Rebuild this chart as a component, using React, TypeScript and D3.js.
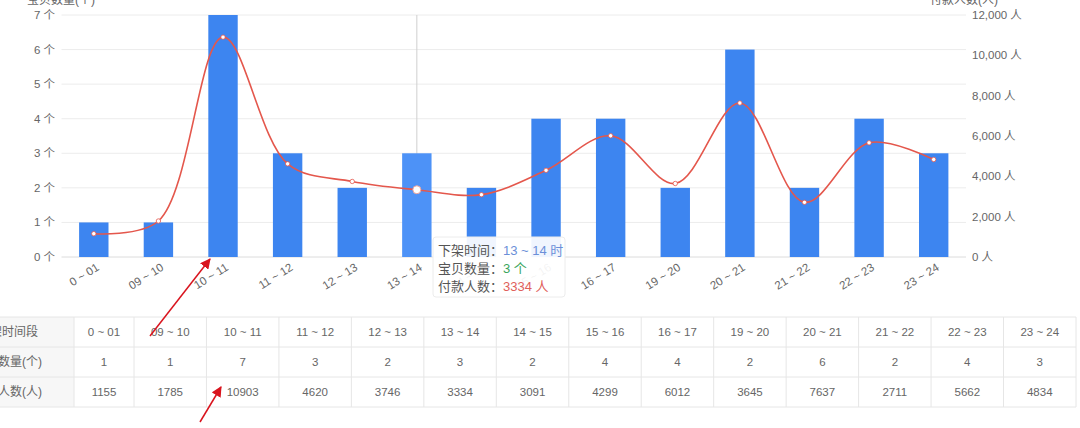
import React from "react";
import * as d3 from "d3";

const categories = ["0 ~ 01", "09 ~ 10", "10 ~ 11", "11 ~ 12", "12 ~ 13", "13 ~ 14", "14 ~ 15", "15 ~ 16", "16 ~ 17", "19 ~ 20", "20 ~ 21", "21 ~ 22", "22 ~ 23", "23 ~ 24"];
const itemCounts = [1, 1, 7, 3, 2, 3, 2, 4, 4, 2, 6, 2, 4, 3];
const buyers = [1155, 1785, 10903, 4620, 3746, 3334, 3091, 4299, 6012, 3645, 7637, 2711, 5662, 4834];
const leftTicks = [0, 1, 2, 3, 4, 5, 6, 7];
const rightTicks = [0, 2000, 4000, 6000, 8000, 10000, 12000];
const rowLabels = ["下架时间段", "宝贝数量(个)", "付款人数(人)"];
const leftTitle = "宝贝数量(个)";
const rightTitle = "付款人数(人)";
const hoverIndex = 5;

const W = 1080;
const H = 428;
const FONT = "'Liberation Sans', 'Noto Sans CJK SC', sans-serif";

export default function App() {
  const left = 61.5, right = 966, top = 15, bottom = 257;
  const x = d3.scaleBand<string>().domain(categories).range([left, right]).paddingInner(0.545).paddingOuter(0.2725);
  const yL = d3.scaleLinear().domain([0, 7]).range([bottom, top]);
  const yR = d3.scaleLinear().domain([0, 12000]).range([bottom, top]);
  const cx = (i: number) => (x(categories[i]) as number) + x.bandwidth() / 2;

  const line = d3.line<number>()
    .x((_, i) => cx(i))
    .y((d) => yR(d))
    .curve(d3.curveCatmullRom.alpha(0.5));

  // table layout
  const rowTop = 317, rowH = 30, tableRight = 1076;
  const labelColRight = 74, firstColRight = 134;
  const tx = d3.scaleBand<string>().domain(categories.slice(1)).range([firstColRight, tableRight]);
  const colLeft = (i: number) => (i === 0 ? labelColRight : (tx(categories[i]) as number));
  const colRight = (i: number) => (i === 0 ? firstColRight : (tx(categories[i]) as number) + tx.bandwidth());
  const tableRows = [categories, itemCounts.map(String), buyers.map(String)];
  const edges = [labelColRight, ...categories.map((_, i) => colRight(i))];

  const hx = cx(hoverIndex);

  return (
    <div style={{ position: "absolute", left: 0, top: 0, width: W, height: H, background: "#fff" }}>
      <svg width={W} height={H} style={{ display: "block", fontFamily: FONT }}>
        <defs>
          <marker id="arrowHead" viewBox="0 0 10 10" refX="9" refY="5" markerWidth="7" markerHeight="7" orient="auto">
            <path d="M0,0 L10,5 L0,10 z" fill="#d9141e" />
          </marker>
        </defs>
        <rect x={0} y={0} width={W} height={H} fill="#fff" />

        {/* axis titles */}
        <text x={61} y={4} textAnchor="middle" fontSize={12} fill="#666">{leftTitle}</text>
        <text x={964} y={4} textAnchor="middle" fontSize={12} fill="#666">{rightTitle}</text>

        {/* grid lines */}
        {leftTicks.map((t) => (
          <line key={t} x1={left} x2={right} y1={yL(t)} y2={yL(t)} stroke={t === 0 ? "#dcdcdc" : "#ececec"} strokeWidth={1} />
        ))}

        {/* left axis labels */}
        {leftTicks.map((t) => (
          <text key={t} x={55} y={yL(t)} dy="0.35em" textAnchor="end" fontSize={11.5} fill="#666">{`${t} 个`}</text>
        ))}
        {/* right axis labels */}
        {rightTicks.map((t) => (
          <text key={t} x={972} y={yR(t)} dy="0.35em" textAnchor="start" fontSize={11.5} fill="#666">{`${d3.format(",")(t)} 人`}</text>
        ))}

        {/* axis pointer */}
        <line x1={hx} x2={hx} y1={top} y2={bottom} stroke="#cfcfcf" strokeWidth={1} />

        {/* bars */}
        {itemCounts.map((v, i) => (
          <rect key={i} x={x(categories[i])} y={yL(v)} width={x.bandwidth()} height={bottom - yL(v)} fill={i === hoverIndex ? "#4d92f7" : "#3d85f0"} />
        ))}

        {/* line */}
        <path d={line(buyers) || ""} fill="none" stroke="#e4574c" strokeWidth={1.6} />
        {buyers.map((v, i) => (
          <circle key={i} cx={cx(i)} cy={yR(v)} r={i === hoverIndex ? 4 : 2.2} fill="#fff" stroke={i === hoverIndex ? "#e8a29c" : "#e4574c"} strokeWidth={i === hoverIndex ? 1 : 0.8} />
        ))}

        {/* x labels */}
        {categories.map((c, i) => (
          <text key={c} transform={`translate(${cx(i) + 4},${266}) rotate(-32)`} textAnchor="end" dy="0.35em" fontSize={11.5} fill="#666">{c}</text>
        ))}

        {/* tooltip */}
        <g>
          <rect x={433} y={237} width={132} height={60} rx={3} fill="rgba(255,255,255,0.92)" stroke="#ececec" />
          <text x={438} y={250} dy="0.35em" fontSize={13} fill="#555">
            下架时间：<tspan fill="#6b8fd8">13 ~ 14 时</tspan>
          </text>
          <text x={438} y={268} dy="0.35em" fontSize={13} fill="#555">
            宝贝数量：<tspan fill="#3ba55c">{itemCounts[hoverIndex]} 个</tspan>
          </text>
          <text x={438} y={286} dy="0.35em" fontSize={13} fill="#555">
            付款人数：<tspan fill="#e0605a">{buyers[hoverIndex]} 人</tspan>
          </text>
        </g>

        {/* table */}
        <rect x={-1} y={rowTop} width={labelColRight + 1} height={rowH * 3} fill="#f7f7f7" />
        {[0, 1, 2, 3].map((r) => (
          <line key={r} x1={0} x2={tableRight} y1={rowTop + r * rowH} y2={rowTop + r * rowH} stroke="#e6e6e6" />
        ))}
        {edges.map((e, i) => (
          <line key={i} x1={e} x2={e} y1={rowTop} y2={rowTop + rowH * 3} stroke="#e6e6e6" />
        ))}
        {rowLabels.map((l, r) => (
          <text key={l} x={8} y={rowTop + r * rowH + rowH / 2} dy="0.35em" textAnchor="middle" fontSize={12} fill="#666">{l}</text>
        ))}
        {tableRows.map((row, r) =>
          row.map((v, i) => (
            <text key={`${r}-${i}`} x={(colLeft(i) + colRight(i)) / 2} y={rowTop + r * rowH + rowH / 2} dy="0.35em" textAnchor="middle" fontSize={11.5} fill="#666">{v}</text>
          ))
        )}

        {/* annotation arrows */}
        <line x1={150} y1={336} x2={210} y2={259} stroke="#d9141e" strokeWidth={1.5} markerEnd="url(#arrowHead)" />
        <line x1={200} y1={422} x2={221} y2={387} stroke="#d9141e" strokeWidth={1.5} markerEnd="url(#arrowHead)" />
      </svg>
    </div>
  );
}
